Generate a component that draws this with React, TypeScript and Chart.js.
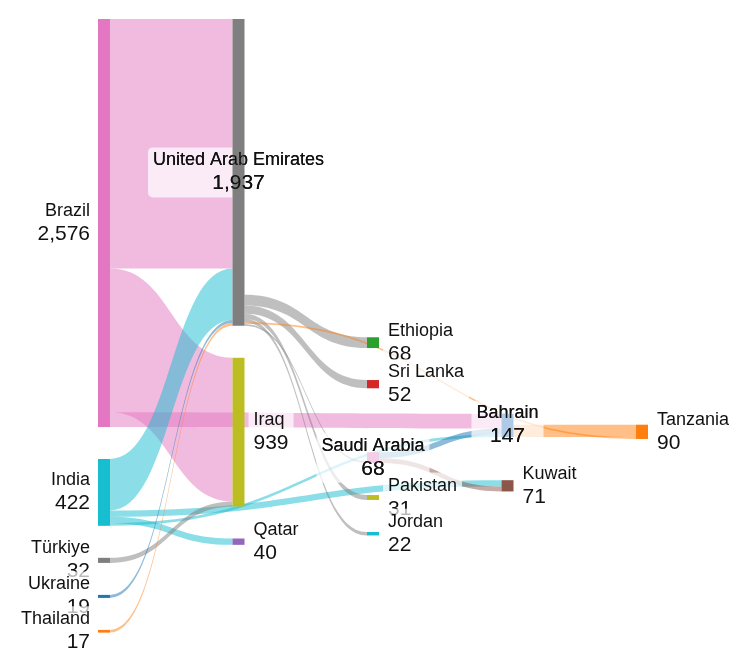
import React, { useEffect, useRef } from "react";
import { Chart, registerables } from "chart.js";

Chart.register(...registerables);

// ---------------- data ----------------
const nodeNames = [
  "Brazil", "India", "Türkiye", "Ukraine", "Thailand",
  "United Arab Emirates", "Iraq", "Qatar",
  "Ethiopia", "Sri Lanka", "Saudi Arabia", "Pakistan", "Jordan",
  "Bahrain", "Kuwait", "Tanzania",
];
const linkSources = [
  "Brazil", "Brazil", "Brazil",
  "India", "India", "India", "India",
  "Türkiye", "Ukraine", "Thailand",
  "United Arab Emirates", "United Arab Emirates", "United Arab Emirates",
  "United Arab Emirates", "United Arab Emirates", "United Arab Emirates",
  "Saudi Arabia", "Saudi Arabia", "Bahrain",
];
const linkTargets = [
  "United Arab Emirates", "Iraq", "Bahrain",
  "United Arab Emirates", "Bahrain", "Kuwait", "Qatar",
  "Iraq", "United Arab Emirates", "United Arab Emirates",
  "Ethiopia", "Sri Lanka", "Saudi Arabia",
  "Pakistan", "Jordan", "Tanzania",
  "Kuwait", "Bahrain", "Tanzania",
];
const linkValues = [
  1576, 907, 93,
  325, 17, 40, 40,
  32, 19, 17,
  68, 52, 11,
  31, 22, 12,
  31, 37, 78,
];

// ---------------- styles ----------------
const nodeColors: Record<string, string> = {
  "Brazil": "#e377c2", "India": "#17becf", "Türkiye": "#7f7f7f", "Ukraine": "#1f77b4",
  "Thailand": "#ff7f0e", "United Arab Emirates": "#7f7f7f", "Iraq": "#bcbd22", "Qatar": "#9467bd",
  "Ethiopia": "#2ca02c", "Sri Lanka": "#d62728", "Saudi Arabia": "#f4cde6", "Pakistan": "#bcbd22",
  "Jordan": "#17becf", "Bahrain": "#aecae4", "Kuwait": "#8c564b", "Tanzania": "#ff7f0e",
};
const linkHueOverride: Record<string, string> = {
  "Saudi Arabia>Kuwait": "#8c564b",
  "Saudi Arabia>Bahrain": "#1f77b4",
  "Bahrain>Tanzania": "#ff7f0e",
  "United Arab Emirates>Tanzania": "#ff7f0e",
};
const centeredLabels = new Set(["United Arab Emirates", "Saudi Arabia", "Bahrain"]);

const FONT = '"Liberation Sans", Arial, Helvetica, sans-serif';
const NAME_FONT = `18px ${FONT}`;
const VALUE_FONT = `21px ${FONT}`;
const NODE_W = 12;
const LAYOUT_H = 624;
const NODE_GAP = 32;
const SCALE_GAP = 34.6;

function hexA(hex: string, a: number) {
  const n = parseInt(hex.slice(1), 16);
  return `rgba(${(n >> 16) & 255},${(n >> 8) & 255},${n & 255},${a})`;
}

// ---------------- sankey layout ----------------
type SNode = {
  name: string; index: number; sourceLinks: SLink[]; targetLinks: SLink[];
  value: number; layer: number; y0: number; y1: number;
};
type SLink = { source: SNode; target: SNode; value: number; index: number; width: number; sy: number; ty: number };

function computeSankey() {
  const H = LAYOUT_H;
  const py = NODE_GAP;
  const nodes: SNode[] = nodeNames.map((name, index) => ({
    name, index, sourceLinks: [], targetLinks: [], value: 0, layer: 0, y0: 0, y1: 0,
  }));
  const byName = new Map(nodes.map((n) => [n.name, n]));
  const links: SLink[] = linkValues.map((value, index) => {
    const source = byName.get(linkSources[index])!;
    const target = byName.get(linkTargets[index])!;
    const l: SLink = { source, target, value, index, width: 0, sy: 0, ty: 0 };
    source.sourceLinks.push(l);
    target.targetLinks.push(l);
    return l;
  });
  const sumV = (ls: SLink[]) => ls.reduce((s, l) => s + l.value, 0);
  for (const n of nodes) n.value = Math.max(sumV(n.sourceLinks), sumV(n.targetLinks));
  const byVal = (a: SLink, b: SLink) => b.value - a.value || a.index - b.index;
  for (const n of nodes) { n.sourceLinks.sort(byVal); n.targetLinks.sort(byVal); }

  // columns = longest path from the sources
  let current = new Set(nodes);
  let depth = 0;
  while (current.size) {
    const next = new Set<SNode>();
    for (const n of current) { n.layer = depth; for (const l of n.sourceLinks) next.add(l.target); }
    depth++;
    current = next;
  }
  const columns: SNode[][] = Array.from({ length: depth }, () => []);
  for (const n of nodes) columns[n.layer].push(n);
  const maxDepth = depth - 1;

  const ky = Math.min(...columns.map((c) => (H - (c.length - 1) * SCALE_GAP) / c.reduce((s, n) => s + n.value, 0)));
  for (const l of links) l.width = l.value * ky;
  // start with every column centred
  for (const col of columns) {
    const total = col.reduce((s, n) => s + n.value * ky, 0) + (col.length - 1) * py;
    let y = (H - total) / 2;
    for (const n of col) { n.y0 = y; n.y1 = y + n.value * ky; y = n.y1 + py; }
  }

  const outW = (n: SNode) => n.sourceLinks.reduce((s, l) => s + l.width, 0);
  const inW = (n: SNode) => n.targetLinks.reduce((s, l) => s + l.width, 0);
  // the lighter side of a node is aligned to its bottom
  const sOff = (l: SLink) => {
    const n = l.source;
    let y = (n.y1 - n.y0) - outW(n);
    for (const k of n.sourceLinks) { if (k === l) break; y += k.width; }
    return y;
  };
  const tOff = (l: SLink) => {
    const n = l.target;
    let y = (n.y1 - n.y0) - inW(n);
    for (const k of n.targetLinks) { if (k === l) break; y += k.width; }
    return y;
  };

  const pushDown = (col: SNode[], y: number, i: number) => {
    for (; i < col.length; ++i) {
      const n = col[i];
      const dy = y - n.y0;
      if (dy > 1e-6) { n.y0 += dy; n.y1 += dy; }
      y = n.y1 + py;
    }
  };
  const pushUp = (col: SNode[], y: number, i: number) => {
    for (; i >= 0; --i) {
      const n = col[i];
      const dy = n.y1 - y;
      if (dy > 1e-6) { n.y0 -= dy; n.y1 -= dy; }
      y = n.y0 - py;
    }
  };
  const stackResolve = (col: SNode[]) => { pushDown(col, 0, 0); pushUp(col, H, col.length - 1); };
  const middleResolve = (col: SNode[]) => {
    const i = col.length >> 1;
    const subject = col[i];
    pushUp(col, subject.y0 - py, i - 1);
    pushDown(col, subject.y1 + py, i + 1);
    pushUp(col, H, col.length - 1);
    pushDown(col, 0, 0);
  };
  const moveTo = (n: SNode, y: number, w: number) => {
    if (!(w > 0)) return;
    const dy = y / w - n.y0;
    n.y0 += dy; n.y1 += dy;
  };

  // left to right: follow incoming links
  for (let c = 1; c < columns.length; ++c) {
    for (const n of columns[c]) {
      let y = 0, w = 0;
      for (const l of n.targetLinks) { y += (l.source.y0 + sOff(l) - tOff(l)) * l.value; w += l.value; }
      moveTo(n, y, w);
    }
    stackResolve(columns[c]);
  }
  // right to left: follow outgoing links (the column fed by the sources looks both ways)
  for (let c = columns.length - 2; c >= 0; --c) {
    for (const n of columns[c]) {
      let y = 0, w = 0;
      for (const l of n.sourceLinks) { y += (l.target.y0 + tOff(l) - sOff(l)) * l.value; w += l.value; }
      if (c === 1) {
        for (const l of n.targetLinks) { y += (l.source.y0 + sOff(l) - tOff(l)) * l.value; w += l.value; }
      }
      moveTo(n, y, w);
    }
    middleResolve(columns[c]);
  }

  for (const l of links) { l.sy = l.source.y0 + sOff(l); l.ty = l.target.y0 + tOff(l); }
  return { nodes, links, maxDepth };
}

// ---------------- component ----------------
export default function App() {
  const canvasRef = useRef<HTMLCanvasElement | null>(null);
  useEffect(() => {
    const canvas = canvasRef.current;
    if (!canvas) return;
    const { nodes, links, maxDepth } = computeSankey();

    const sankeyPlugin = {
      id: "sankeyDraw",
      afterDatasetsDraw(chart: any) {
        const ctx: CanvasRenderingContext2D = chart.ctx;
        const xs = chart.scales.x;
        const ys = chart.scales.y;
        const px = (layer: number) => xs.getPixelForValue(layer);
        const pyv = (v: number) => ys.getPixelForValue(v);
        ctx.save();

        for (const l of links) {
          const key = `${l.source.name}>${l.target.name}`;
          const hue = linkHueOverride[key] ?? nodeColors[l.source.name];
          const x0 = px(l.source.layer) + NODE_W;
          const x1 = px(l.target.layer);
          const xm = (x0 + x1) / 2;
          const s0 = pyv(l.sy), s1 = pyv(l.sy + l.width);
          const t0 = pyv(l.ty), t1 = pyv(l.ty + l.width);
          ctx.beginPath();
          ctx.moveTo(x0, s0);
          ctx.bezierCurveTo(xm, s0, xm, t0, x1, t0);
          ctx.lineTo(x1, t1);
          ctx.bezierCurveTo(xm, t1, xm, s1, x0, s1);
          ctx.closePath();
          ctx.fillStyle = hexA(hue, 0.5);
          ctx.fill();
        }

        const labelInfo = nodes.map((n) => {
          const left = px(n.layer);
          const cy = (pyv(n.y0) + pyv(n.y1)) / 2;
          const name = n.name;
          const val = n.value.toLocaleString("en-US");
          ctx.font = NAME_FONT;
          const wName = ctx.measureText(name).width;
          ctx.font = VALUE_FONT;
          const wVal = ctx.measureText(val).width;
          const w = Math.max(wName, wVal);
          let align: CanvasTextAlign;
          let tx: number;
          if (centeredLabels.has(name)) { align = "center"; tx = left + NODE_W / 2; }
          else if (n.layer === 0) { align = "right"; tx = left - 8; }
          else { align = "left"; tx = left + NODE_W + 9; }
          const bx = align === "center" ? tx - w / 2 - 5 : align === "right" ? tx - w - 5 : tx - 5;
          return { cy, name, val, w, align, tx, bx };
        });
        const drawText = (li: any) => {
          ctx.fillStyle = "#111";
          ctx.textAlign = li.align;
          ctx.textBaseline = "alphabetic";
          ctx.font = NAME_FONT;
          ctx.fillText(li.name, li.tx, li.cy - 7);
          ctx.font = VALUE_FONT;
          ctx.fillText(li.val, li.tx, li.cy + 17);
        };
        for (const li of labelInfo) {
          ctx.beginPath();
          ctx.roundRect(li.bx, li.cy - 25, li.w + 10, 50, 5);
          ctx.fillStyle = "rgba(255,255,255,0.7)";
          ctx.fill();
          drawText(li);
        }
        for (const n of nodes) {
          ctx.fillStyle = nodeColors[n.name];
          ctx.fillRect(px(n.layer), pyv(n.y0), NODE_W, Math.max(1, pyv(n.y1) - pyv(n.y0)));
        }
        for (const li of labelInfo) if (centeredLabels.has(li.name)) drawText(li);
        ctx.restore();
      },
    };

    const chart = new Chart(canvas, {
      type: "scatter",
      data: { datasets: [{ data: nodes.map((n) => ({ x: n.layer, y: (n.y0 + n.y1) / 2 })), pointRadius: 0 }] },
      options: {
        animation: false,
        responsive: true,
        maintainAspectRatio: false,
        devicePixelRatio: 1,
        layout: { padding: { left: 90, right: 106, top: 11, bottom: 21 } },
        plugins: { legend: { display: false }, tooltip: { enabled: false } },
        events: [],
        scales: {
          x: { type: "linear", min: 0, max: maxDepth, display: false },
          y: { type: "linear", min: 0, max: LAYOUT_H, reverse: true, display: false },
        },
      },
      plugins: [sankeyPlugin],
    });
    return () => chart.destroy();
  }, []);

  return (
    <div style={{ position: "relative", width: 734, height: 656 }}>
      <canvas ref={canvasRef} />
    </div>
  );
}
